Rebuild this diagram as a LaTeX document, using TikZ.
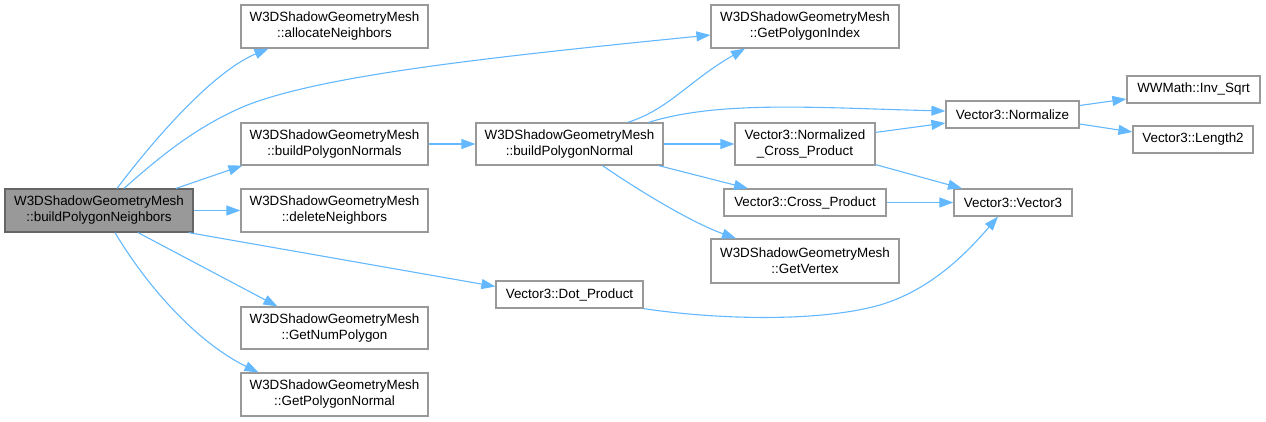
\documentclass[tikz,border=0pt]{standalone}
\usepackage{fontspec}
\setmainfont{Liberation Sans}
\usetikzlibrary{arrows.meta}
\definecolor{edgeblue}{HTML}{63B8FF}
\definecolor{boxgray}{HTML}{999999}
\definecolor{maingray}{HTML}{999999}
\definecolor{mainborder}{HTML}{666666}
\begin{document}
\begin{tikzpicture}[x=1pt,y=-1pt,
  box/.style={draw=boxgray, fill=white, line width=1.2pt, align=center, inner sep=0pt, font=\fontsize{13.4}{16}\selectfont},
  mainbox/.style={box, fill=maingray, draw=mainborder},
  call/.style={draw=edgeblue, line width=1.1pt, -{Triangle[length=14pt,width=10pt]}},
]
\useasboundingbox (0,0) rectangle (1266,421);
% nodes
\node[mainbox, minimum width=188pt, minimum height=43pt] (main) at (99,210.5) {W3DShadowGeometryMesh\\::buildPolygonNeighbors};
\node[box, minimum width=187pt, minimum height=43pt] (alloc) at (334.5,26.5) {W3DShadowGeometryMesh\\::allocateNeighbors};
\node[box, minimum width=187pt, minimum height=42pt] (normals) at (334.5,144) {W3DShadowGeometryMesh\\::buildPolygonNormals};
\node[box, minimum width=187pt, minimum height=43pt] (del) at (334.5,210.5) {W3DShadowGeometryMesh\\::deleteNeighbors};
\node[box, minimum width=187pt, minimum height=42pt] (numpoly) at (334.5,328) {W3DShadowGeometryMesh\\::GetNumPolygon};
\node[box, minimum width=187pt, minimum height=43pt] (polynorm) at (334.5,394.5) {W3DShadowGeometryMesh\\::GetPolygonNormal};
\node[box, minimum width=188pt, minimum height=43pt] (polyidx) at (805,26.5) {W3DShadowGeometryMesh\\::GetPolygonIndex};
\node[box, minimum width=187pt, minimum height=42pt] (normal) at (569.5,144) {W3DShadowGeometryMesh\\::buildPolygonNormal};
\node[box, minimum width=140pt, minimum height=42pt] (ncp) at (805,144) {Vector3::Normalized\\\_Cross\_Product};
\node[box, minimum width=162pt, minimum height=27pt] (cp) at (805,202.5) {Vector3::Cross\_Product};
\node[box, minimum width=188pt, minimum height=44pt] (vertex) at (805,261) {W3DShadowGeometryMesh\\::GetVertex};
\node[box, minimum width=147pt, minimum height=27pt] (dot) at (569.5,294.5) {Vector3::Dot\_Product};
\node[box, minimum width=133pt, minimum height=27pt] (normalize) at (1012.5,114.5) {Vector3::Normalize};
\node[box, minimum width=118pt, minimum height=27pt] (vec3) at (1013,202.5) {Vector3::Vector3};
\node[box, minimum width=133pt, minimum height=27pt] (inv) at (1193.5,89.5) {WWMath::Inv\_Sqrt};
\node[box, minimum width=120pt, minimum height=27pt] (len2) at (1193,139.5) {Vector3::Length2};
% connectors
\draw[call] ([xshift=18pt]main.north) .. controls (152,142) and (212,72) .. ([xshift=-66pt]alloc.south);
\draw[call] ([xshift=25pt]main.north) .. controls (165,152) and (200,125) .. (245,106) .. controls (320,76) and (480,58) .. ([yshift=-8.5pt]polyidx.west);
\draw[call] ([xshift=77pt]main.north) -- ([xshift=2pt]normals.south west);
\draw[call] (main.east) -- (del.west);
\draw[call] ([xshift=-5pt]main.south east) -- ([yshift=8pt]dot.west);
\draw[call] ([xshift=39pt]main.south) -- ([xshift=-57pt]numpoly.north);
\draw[call] ([xshift=16pt]main.south) .. controls (148,288) and (198,343) .. ([xshift=-76pt]polynorm.north);
\draw[call] (normals.east) -- (normal.west);
\draw[call] ([xshift=58pt]normal.north) .. controls (668,110) and (690,80) .. ([xshift=-60pt]polyidx.south);
\draw[call] ([xshift=79pt]normal.north) .. controls (720,100) and (820,108) .. ([yshift=3.5pt]normalize.west);
\draw[call] (normal.east) -- (ncp.west);
\draw[call] ([xshift=-5pt]normal.south east) -- ([xshift=-57pt]cp.north);
\draw[call] ([xshift=33pt]normal.south) .. controls (635,188) and (690,222) .. ([xshift=-69pt]vertex.north);
\draw[call] ([yshift=-10pt]ncp.north east) -- ([yshift=-8.5pt]normalize.west);
\draw[call] ([yshift=1pt]ncp.south east) -- ([xshift=-51pt]vec3.north);
\draw[call] (cp.east) -- (vec3.west);
\draw[call] (dot.south east) .. controls (720,320) and (820,322) .. (880,305) .. controls (930,290) and (965,255) .. ([xshift=-15pt]vec3.south);
\draw[call] ([yshift=9pt]normalize.east) -- ([yshift=-9.5pt]inv.west);
\draw[call] ([yshift=-9.5pt]normalize.east) -- ([yshift=7.5pt]len2.west);
\end{tikzpicture}
\end{document}
